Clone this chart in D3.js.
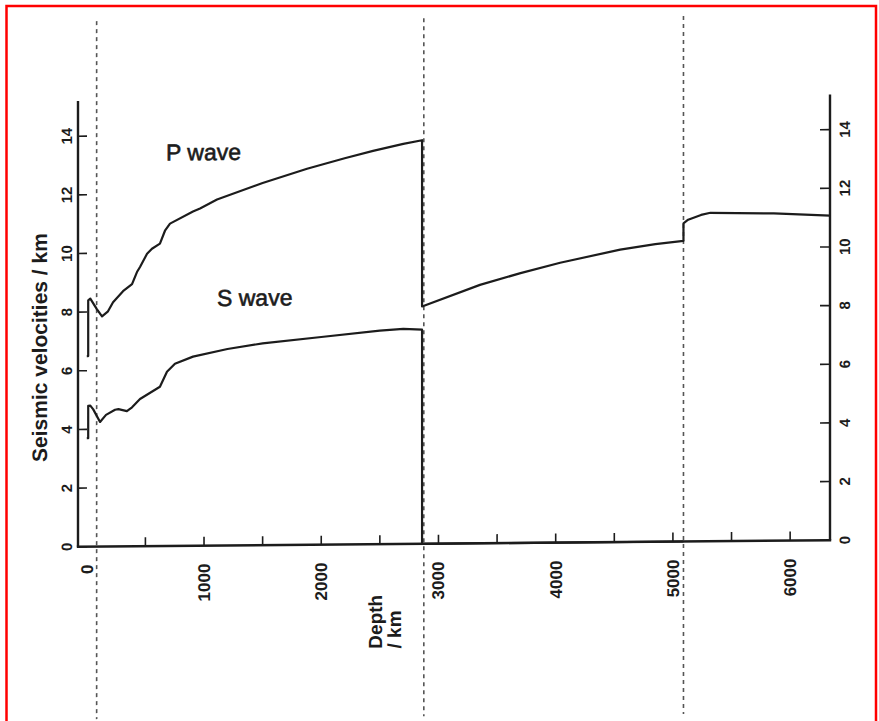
<!DOCTYPE html>
<meta charset="utf-8">
<style>
body { margin: 0; background: #fff; }
svg text { font-family: "Liberation Sans", Arial, sans-serif; fill: #1c1c1c; }
</style>
<body>
<svg width="879" height="721"></svg>
<script src="https://d3js.org/d3.v7.min.js"></script>
<script>
// depth (km) and seismic velocity (km/s)
var pDepth = [0, 12, 12, 30, 87, 130, 181, 224, 309, 386, 428, 454, 514, 556, 624, 667, 710, 906, 966, 1111, 1500, 1879, 2200, 2442, 2700, 2860,
              2860, 3354, 3700, 4038, 4550, 4850, 5090,
              5090, 5130, 5240, 5320, 5860, 6340];
var pVel   = [6.5, 6.5, 8.4, 8.46, 8.09, 7.85, 8.02, 8.33, 8.7, 8.94, 9.35, 9.52, 9.97, 10.14, 10.31, 10.75, 10.99, 11.4, 11.5, 11.8, 12.35, 12.82, 13.17, 13.41, 13.64, 13.76,
              8.09, 8.81, 9.2, 9.54, 9.97, 10.15, 10.25,
              10.85, 10.97, 11.13, 11.2, 11.16, 11.07];

var sDepth = [0, 12, 12, 30, 55, 113, 164, 241, 270, 342, 386, 454, 565, 624, 684, 752, 906, 1200, 1500, 2000, 2500, 2700, 2860, 2860, 5090];
var sVel   = [3.7, 3.7, 4.8, 4.81, 4.68, 4.25, 4.49, 4.66, 4.68, 4.61, 4.74, 5.02, 5.29, 5.43, 5.94, 6.21, 6.45, 6.7, 6.88, 7.08, 7.28, 7.33, 7.3, 0, 0];

var boundaries = [84, 2875, 5090];          // dashed lines
var depthTicks = d3.range(500, 6001, 500);
var depthLabels = [0, 1000, 2000, 3000, 4000, 5000, 6000];
var velTicks = [0, 2, 4, 6, 8, 10, 12, 14];

var svg = d3.select("svg");

svg.append("rect")
    .attr("x", 6.5).attr("y", 6).attr("width", 869.5).attr("height", 730)
    .attr("fill", "none").attr("stroke", "#ff0000").attr("stroke-width", 2.5);

// the scan is slightly tilted: right side sits a few px higher
var cx = 454;
var g = svg.append("g")
    .attr("transform", "translate(" + cx + ",0) skewY(-0.5) translate(" + (-cx) + ",0)");

var x = d3.scaleLinear().domain([-75, 6340]).range([78, 830]);
var y = d3.scaleLinear().domain([0, 15.2]).range([543.5, 97.7]);

// dashed boundaries
g.selectAll(".bound")
  .data(boundaries)
  .enter().append("line")
    .attr("class", "bound")
    .attr("x1", function(d) { return x(d); })
    .attr("x2", function(d) { return x(d); })
    .attr("y1", 18).attr("y2", 716)
    .attr("stroke", "#555").attr("stroke-width", 1.6)
    .attr("stroke-dasharray", "4,4");

// axes
var axisColor = "#1c1c1c";
g.append("line")
    .attr("x1", x(-75)).attr("x2", x(-75)).attr("y1", y(15.2)).attr("y2", y(0))
    .attr("stroke", axisColor).attr("stroke-width", 2.4);
g.append("line")
    .attr("x1", x(6340)).attr("x2", x(6340)).attr("y1", y(15.2)).attr("y2", y(0))
    .attr("stroke", axisColor).attr("stroke-width", 2.4);
g.append("line")
    .attr("x1", x(-75) - 1.2).attr("x2", x(6340) + 1.2).attr("y1", y(0)).attr("y2", y(0))
    .attr("stroke", axisColor).attr("stroke-width", 2.6);

// bottom ticks (inward)
g.selectAll(".xtick")
  .data(depthTicks)
  .enter().append("line")
    .attr("x1", function(d) { return x(d); })
    .attr("x2", function(d) { return x(d); })
    .attr("y1", y(0)).attr("y2", y(0) - 9)
    .attr("stroke", axisColor).attr("stroke-width", 1.6);

g.selectAll(".xlab")
  .data(depthLabels)
  .enter().append("text")
    .attr("transform", function(d) { return "translate(" + x(d) + "," + (y(0) + 18) + ") rotate(-90)"; })
    .attr("dy", "0.35em")
    .attr("text-anchor", "end")
    .attr("font-size", 17)
    .attr("font-weight", "bold")
    .text(function(d) { return d; });

// left ticks
g.selectAll(".ytickL")
  .data(velTicks)
  .enter().append("line")
    .attr("x1", x(-75)).attr("x2", x(-75) + 9)
    .attr("y1", function(d) { return y(d); })
    .attr("y2", function(d) { return y(d); })
    .attr("stroke", axisColor).attr("stroke-width", 1.6);

g.selectAll(".ylabL")
  .data(velTicks)
  .enter().append("text")
    .attr("transform", function(d) { return "translate(" + (x(-75) - 6) + "," + y(d) + ") rotate(-90)"; })
    .attr("text-anchor", "middle")
    .attr("font-size", 15)
    .attr("font-weight", "bold")
    .text(function(d) { return d; });

// right ticks
g.selectAll(".ytickR")
  .data(velTicks)
  .enter().append("line")
    .attr("x1", x(6340)).attr("x2", x(6340) - 10)
    .attr("y1", function(d) { return y(d); })
    .attr("y2", function(d) { return y(d); })
    .attr("stroke", axisColor).attr("stroke-width", 1.6);

g.selectAll(".ylabR")
  .data(velTicks)
  .enter().append("text")
    .attr("transform", function(d) { return "translate(" + (x(6340) + 20) + "," + y(d) + ") rotate(-90)"; })
    .attr("text-anchor", "middle")
    .attr("font-size", 15)
    .attr("font-weight", "bold")
    .text(function(d) { return d; });

// curves
var line = d3.line()
    .x(function(d) { return x(d[0]); })
    .y(function(d) { return y(d[1]); });

var pData = d3.zip(pDepth, pVel);
var sData = d3.zip(sDepth, sVel);

g.append("path")
    .datum(pData)
    .attr("d", line)
    .attr("fill", "none").attr("stroke", "#1c1c1c").attr("stroke-width", 2.2)
    .attr("stroke-linejoin", "round");

g.append("path")
    .datum(sData)
    .attr("d", line)
    .attr("fill", "none").attr("stroke", "#1c1c1c").attr("stroke-width", 2.2)
    .attr("stroke-linejoin", "round");

// labels
g.append("text").attr("x", 166).attr("y", 158).attr("font-size", 23)
    .attr("stroke", "#1c1c1c").attr("stroke-width", 0.6).text("P wave");
g.append("text").attr("x", 217).attr("y", 304).attr("font-size", 23)
    .attr("stroke", "#1c1c1c").attr("stroke-width", 0.6).text("S wave");

g.append("text")
    .attr("transform", "translate(47,344) rotate(-90)")
    .attr("text-anchor", "middle")
    .attr("font-size", 21)
    .attr("font-weight", "bold")
    .text("Seismic velocities / km");

g.append("text")
    .attr("transform", "translate(382,648) rotate(-90)")
    .attr("font-size", 19)
    .attr("font-weight", "bold")
    .text("Depth");
g.append("text")
    .attr("transform", "translate(401,648) rotate(-90)")
    .attr("font-size", 19)
    .attr("font-weight", "bold")
    .text("/ km");
</script>
</body>
